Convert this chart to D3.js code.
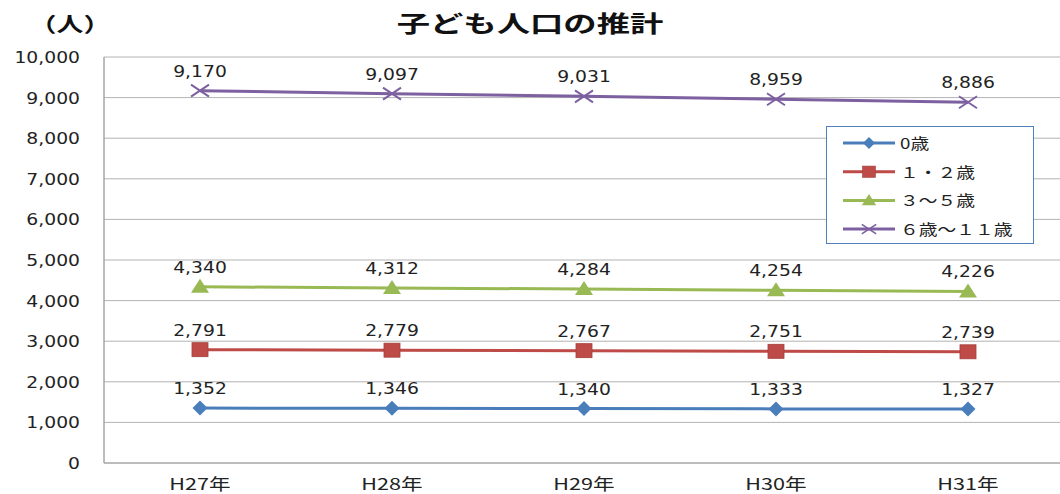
<!DOCTYPE html>
<html>
<head>
<meta charset="utf-8">
<script src="https://cdn.jsdelivr.net/npm/d3@7"></script>
<style>
  body { margin: 0; background: #fff; }
  svg { display: block; }
</style>
</head>
<body>
<div id="chart"></div>
<script>
// data
const years = ["H27年", "H28年", "H29年", "H30年", "H31年"];
const age0 = [1352, 1346, 1340, 1333, 1327];
const age1to2 = [2791, 2779, 2767, 2751, 2739];
const age3to5 = [4340, 4312, 4284, 4254, 4226];
const age6to11 = [9170, 9097, 9031, 8959, 8886];
const seriesNames = ["0歳", "１・２歳", "３～５歳", "６歳～１１歳"];
const yTicks = [0, 1000, 2000, 3000, 4000, 5000, 6000, 7000, 8000, 9000, 10000];

const series = [
    { name: seriesNames[0], values: age0, color: "#4A7EBB", marker: "diamond" },
    { name: seriesNames[1], values: age1to2, color: "#BE4B48", marker: "square" },
    { name: seriesNames[2], values: age3to5, color: "#98B954", marker: "triangle" },
    { name: seriesNames[3], values: age6to11, color: "#7D60A0", marker: "cross" }
];

const width = 1060;
const height = 494;
const margin = { top: 57, right: -4, bottom: 31, left: 104 };
const fmt = d3.format(",");

const svg = d3.select("#chart")
    .append("svg")
    .attr("width", width)
    .attr("height", height);

const x = d3.scaleBand()
    .domain(years)
    .range([margin.left, width - margin.right]);

const y = d3.scaleLinear()
    .domain([0, 10000])
    .range([height - margin.bottom, margin.top]);

// gridlines
svg.append("g")
    .selectAll("line")
    .data(yTicks)
    .enter()
    .append("line")
    .attr("x1", margin.left)
    .attr("x2", width)
    .attr("y1", d => y(d))
    .attr("y2", d => y(d))
    .attr("stroke", d => d === 0 ? "#A6A6A6" : "#B3B3B3")
    .attr("stroke-width", d => d === 0 ? 1.5 : 1);

// y axis line
svg.append("line")
    .attr("x1", margin.left)
    .attr("x2", margin.left)
    .attr("y1", y(10000))
    .attr("y2", y(0))
    .attr("stroke", "#A6A6A6")
    .attr("stroke-width", 1.5);

// y tick labels (stretched like the original)
svg.append("g")
    .selectAll("text")
    .data(yTicks)
    .enter()
    .append("text")
    .attr("transform", d => `translate(80,${y(d) + 6}) scale(1.25,1)`)
    .attr("text-anchor", "end")
    .attr("font-family", "DejaVu Sans, sans-serif")
    .attr("font-size", 15)
    .attr("fill", "#222")
    .text(d => fmt(d));

// x labels
svg.append("g")
    .selectAll("text")
    .data(years)
    .enter()
    .append("text")
    .attr("transform", d => `translate(${x(d) + x.bandwidth() / 2},${490}) scale(1.35,1)`)
    .attr("text-anchor", "middle")
    .attr("font-family", "Noto Sans CJK JP, sans-serif")
    .attr("font-size", 16)
    .attr("fill", "#222")
    .text(d => d);

// title
svg.append("text")
    .attr("transform", "translate(530,32) scale(1.45,1)")
    .attr("text-anchor", "middle")
    .attr("font-family", "Noto Sans CJK JP, sans-serif")
    .attr("font-weight", "bold")
    .attr("font-size", 23)
    .attr("fill", "#111")
    .text("子ども人口の推計");

svg.append("text")
    .attr("transform", "translate(70,32) scale(1.35,1)")
    .attr("text-anchor", "middle")
    .attr("font-family", "Noto Sans CJK JP, sans-serif")
    .attr("font-weight", "bold")
    .attr("font-size", 20)
    .attr("fill", "#111")
    .text("（人）");

const cx = d => x(d) + x.bandwidth() / 2;

function drawMarker(g, type, color) {
    if (type === "diamond") {
        g.append("path").attr("d", "M0,-7.5L7.5,0L0,7.5L-7.5,0Z").attr("fill", color);
    } else if (type === "square") {
        g.append("rect").attr("x", -8).attr("y", -7).attr("width", 16).attr("height", 14)
            .attr("fill", color).attr("stroke", "#A33D3A").attr("stroke-width", 0.8);
    } else if (type === "triangle") {
        g.append("path").attr("d", "M0,-8L9,6L-9,6Z").attr("fill", color);
    } else {
        g.append("path").attr("d", "M-9,-6L9,6M-9,6L9,-6")
            .attr("stroke", color).attr("stroke-width", 2).attr("fill", "none");
    }
}

const line = d3.line()
    .x((d, i) => cx(years[i]))
    .y(d => y(d));

series.forEach(s => {
    svg.append("path")
        .datum(s.values)
        .attr("d", line)
        .attr("fill", "none")
        .attr("stroke", s.color)
        .attr("stroke-width", 3);

    s.values.forEach((v, i) => {
        const g = svg.append("g")
            .attr("transform", `translate(${cx(years[i])},${y(v)})`);
        drawMarker(g, s.marker, s.color);

        svg.append("text")
            .attr("transform", `translate(${cx(years[i])},${y(v) - 14}) scale(1.25,1)`)
            .attr("text-anchor", "middle")
            .attr("font-family", "DejaVu Sans, sans-serif")
            .attr("font-size", 15)
            .attr("fill", "#222")
            .text(fmt(v));
    });
});

// legend
const legend = svg.append("g");
legend.append("rect")
    .attr("x", 826.5)
    .attr("y", 126.5)
    .attr("width", 207)
    .attr("height", 117)
    .attr("fill", "#fff")
    .attr("stroke", "#4F81BD")
    .attr("stroke-width", 1);

series.forEach((s, i) => {
    const ly = 143 + i * 28.7;
    legend.append("line")
        .attr("x1", 843).attr("x2", 895)
        .attr("y1", ly).attr("y2", ly)
        .attr("stroke", s.color).attr("stroke-width", 3);
    const g = legend.append("g").attr("transform", `translate(869,${ly}) scale(0.8)`);
    drawMarker(g, s.marker, s.color);
    legend.append("text")
        .attr("transform", `translate(900,${ly + 6}) scale(1.25,1)`)
        .attr("font-family", "Noto Sans CJK JP, sans-serif")
        .attr("font-size", 15)
        .attr("fill", "#222")
        .text(s.name);
});
</script>
</body>
</html>
